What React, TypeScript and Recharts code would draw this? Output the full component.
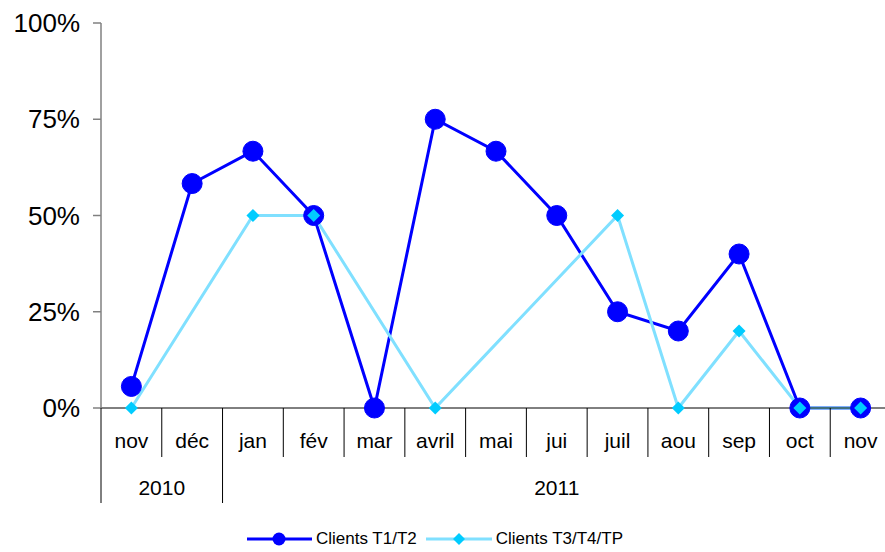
import { Legend, Line, LineChart, XAxis, YAxis } from "recharts";

const months = ["nov", "déc", "jan", "fév", "mar", "avril", "mai", "jui", "juil", "aou", "sep", "oct", "nov"];
const years = [
  { label: "2010", start: 0, span: 2 },
  { label: "2011", start: 2, span: 11 },
];
const clientsT1T2 = [0.056, 0.583, 0.667, 0.5, 0, 0.75, 0.667, 0.5, 0.25, 0.2, 0.4, 0, 0];
const clientsT3T4TP = [0, null, 0.5, 0.5, null, 0, null, null, 0.5, 0, 0.2, 0, 0];
const yTicks = [0, 0.25, 0.5, 0.75, 1];

const DARK = "#0000FF";
const LIGHT_LINE = "#80E0FF";
const LIGHT_DOT = "#00CCFF";
const FONT = "'Liberation Sans', Arial, sans-serif";

const WIDTH = 891;
const HEIGHT = 552;
const Y_AXIS_W = 101;
const bandWidth = (WIDTH - Y_AXIS_W) / months.length;

const data = months.map((m, i) => ({
  key: i,
  month: m,
  t1: clientsT1T2[i],
  t3: clientsT3T4TP[i],
}));

function MonthTick(props: any) {
  const { x, y, index } = props;
  const left = x - bandWidth / 2;
  const year = years.find((yr) => yr.start === index);
  const isLast = index === months.length - 1;
  return (
    <g>
      <line x1={left} y1={y} x2={left} y2={year ? y + 95 : y + 49} stroke="#000" strokeWidth={1} />
      {isLast && <line x1={left + bandWidth} y1={y} x2={left + bandWidth} y2={y + 49} stroke="#000" />}
      <text x={x} y={y + 40} textAnchor="middle" fontSize={21} fontFamily={FONT} fill="#000">
        {months[index]}
      </text>
      {year && (
        <text
          x={left + (year.span * bandWidth) / 2}
          y={y + 87}
          textAnchor="middle"
          fontSize={21}
          fontFamily={FONT}
          fill="#000"
        >
          {year.label}
        </text>
      )}
    </g>
  );
}

function CircleDot(props: any) {
  const { cx, cy, index } = props;
  if (cy == null || cx == null) return <g key={`c-${index}`} />;
  return <circle key={`c-${index}`} cx={cx} cy={cy} r={10} fill={DARK} stroke={DARK} />;
}

function DiamondDot(props: any) {
  const { cx, cy, index } = props;
  if (cy == null || cx == null) return <g key={`d-${index}`} />;
  const s = 6.5;
  return (
    <path
      key={`d-${index}`}
      d={`M${cx},${cy - s} L${cx + s},${cy} L${cx},${cy + s} L${cx - s},${cy} Z`}
      fill={LIGHT_DOT}
    />
  );
}

function LegendContent() {
  return (
    <div
      style={{
        display: "flex",
        justifyContent: "center",
        alignItems: "center",
        height: 26,
        fontFamily: FONT,
        fontSize: 17,
        color: "#000",
      }}
    >
      <svg width={65} height={16} style={{ marginRight: 4 }}>
        <line x1={0} y1={8} x2={65} y2={8} stroke={DARK} strokeWidth={3} />
        <circle cx={32} cy={8} r={6.5} fill={DARK} />
      </svg>
      <span style={{ marginRight: 9 }}>Clients T1/T2</span>
      <svg width={66} height={16} style={{ marginRight: 4 }}>
        <line x1={0} y1={8} x2={66} y2={8} stroke={LIGHT_LINE} strokeWidth={3} />
        <path d="M33,2 L39,8 L33,14 L27,8 Z" fill={LIGHT_DOT} />
      </svg>
      <span>Clients T3/T4/TP</span>
    </div>
  );
}

export default function App() {
  return (
    <div style={{ position: "absolute", left: 0, top: 0, width: 885, height: HEIGHT, overflow: "hidden", background: "#fff" }}>
      <LineChart width={WIDTH} height={HEIGHT} data={data} margin={{ top: 23, right: 0, bottom: 0, left: 0 }}>
        <XAxis
          dataKey="key"
          type="category"
          interval={0}
          height={118}
          padding={{ left: bandWidth / 2, right: bandWidth / 2 }}
          tickSize={0}
          tickMargin={0}
          tickLine={false}
          axisLine={{ stroke: "#000", strokeWidth: 1 }}
          tick={<MonthTick />}
        />
        <YAxis
          width={Y_AXIS_W}
          domain={[0, 1]}
          ticks={yTicks}
          tickFormatter={(v: number) => `${Math.round(v * 100)}%`}
          axisLine={{ stroke: "#808080", strokeWidth: 1.5 }}
          tickLine={{ stroke: "#808080", strokeWidth: 1.5 }}
          tickSize={8}
          tickMargin={13}
          tick={{ fill: "#000", fontSize: 26, fontFamily: FONT }}
        />
        <Legend
          verticalAlign="bottom"
          content={<LegendContent />}
          wrapperStyle={{ left: 0, width: 870, bottom: 0 }}
        />
        <Line
          dataKey="t1"
          name="Clients T1/T2"
          stroke={DARK}
          strokeWidth={3}
          dot={<CircleDot />}
          isAnimationActive={false}
        />
        <Line
          dataKey="t3"
          name="Clients T3/T4/TP"
          stroke={LIGHT_LINE}
          strokeWidth={3}
          connectNulls
          dot={<DiamondDot />}
          isAnimationActive={false}
        />
      </LineChart>
    </div>
  );
}
